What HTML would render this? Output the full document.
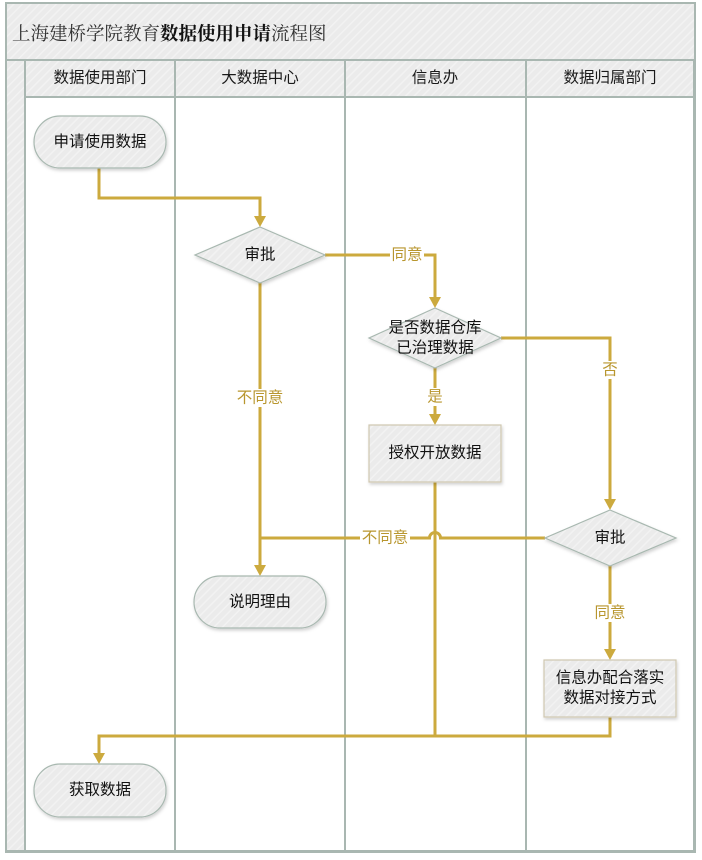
<!DOCTYPE html>
<html><head><meta charset="utf-8">
<style>
html,body{margin:0;padding:0;background:#fff;width:702px;height:860px;overflow:hidden}
svg{display:block}
.t{font-family:"Liberation Sans","Noto Sans CJK SC",sans-serif;font-size:15.5px;fill:#111;text-anchor:middle;dominant-baseline:central}
.h{font-family:"Liberation Sans","Noto Sans CJK SC",sans-serif;font-size:15.5px;fill:#1a1a1a;text-anchor:middle;dominant-baseline:central}
.l{font-family:"Liberation Sans","Noto Sans CJK SC",sans-serif;font-size:15.5px;fill:#b8962e;text-anchor:middle;dominant-baseline:central}
.c{fill:none;stroke:#ccaa3e;stroke-width:3}
.a{fill:#ccaa3e}
.n{fill:url(#hatch);stroke:#a8b8b0;stroke-width:1.2;filter:url(#sh)}
</style></head><body>
<svg width="702" height="860" viewBox="0 0 702 860" xmlns="http://www.w3.org/2000/svg">
<defs>
<pattern id="hatch" width="6" height="6" patternUnits="userSpaceOnUse" patternTransform="rotate(45)">
<rect width="6" height="6" fill="#ebebeb"/>
<rect width="1.5" height="6" fill="#f2f2f2"/>
</pattern>
<filter id="sh" x="-10%" y="-10%" width="130%" height="140%">
<feDropShadow dx="1" dy="2" stdDeviation="1.5" flood-color="#000" flood-opacity="0.18"/>
</filter>
</defs>

<!-- frame -->
<rect x="6" y="3" width="689" height="849" fill="url(#hatch)" stroke="#a9b7b1" stroke-width="2"/>
<rect x="25" y="97" width="669" height="754" fill="#fff"/>
<g stroke="#a9b7b1" stroke-width="2" fill="none">
<line x1="6" y1="60" x2="695" y2="60"/>
<line x1="25" y1="97" x2="695" y2="97"/>
<line x1="25" y1="60" x2="25" y2="852"/>
<line x1="175" y1="60" x2="175" y2="852"/>
<line x1="345" y1="60" x2="345" y2="852"/>
<line x1="526" y1="60" x2="526" y2="852"/>
<line x1="694" y1="60" x2="694" y2="852"/>
<line x1="6" y1="851" x2="695" y2="851"/>
</g>

<!-- title -->
<text x="12" y="35" style="font-family:'Liberation Serif','Noto Serif CJK SC',serif;font-size:18.5px;fill:#333;dominant-baseline:central">上海建桥学院教育<tspan style="font-weight:bold;fill:#111">数据使用申请</tspan>流程图</text>

<!-- headers -->
<text class="h" x="100" y="78">数据使用部门</text>
<text class="h" x="260" y="78">大数据中心</text>
<text class="h" x="435" y="78">信息办</text>
<text class="h" x="610" y="78">数据归属部门</text>

<!-- connectors -->
<path class="c" d="M99,168 V198 H260 V218"/>
<polygon class="a" points="254,216 266,216 260,227"/>

<path class="c" d="M325,255 H435 V299"/>
<polygon class="a" points="429,297 441,297 435,308"/>

<path class="c" d="M435,368 V416"/>
<polygon class="a" points="429,414 441,414 435,425"/>

<path class="c" d="M501,338 H610 V501"/>
<polygon class="a" points="604,499 616,499 610,510"/>

<path class="c" d="M545,538 H440.5 A5,5 0 0 0 429.5,538 H260"/>

<path class="c" d="M260,283 V567"/>
<polygon class="a" points="254,565 266,565 260,576"/>

<path class="c" d="M610,566 V651"/>
<polygon class="a" points="604,649 616,649 610,660"/>

<path class="c" d="M610,717 V736 H99 V755"/>
<polygon class="a" points="93,753 105,753 99,764"/>

<path class="c" d="M435,482 V736"/>

<!-- connector labels -->
<rect x="390" y="246" width="34" height="18" fill="#fff"/>
<text class="l" x="407" y="255">同意</text>
<rect x="427" y="388" width="16" height="18" fill="#fff"/>
<text class="l" x="435" y="397">是</text>
<rect x="602" y="361" width="16" height="18" fill="#fff"/>
<text class="l" x="610" y="370">否</text>
<rect x="360" y="529" width="50" height="18" fill="#fff"/>
<text class="l" x="385" y="538">不同意</text>
<rect x="235" y="389" width="50" height="18" fill="#fff"/>
<text class="l" x="260" y="398">不同意</text>
<rect x="593" y="604" width="34" height="18" fill="#fff"/>
<text class="l" x="610" y="613">同意</text>

<!-- nodes -->
<rect class="n" x="34" y="116" width="132" height="52" rx="26"/>
<text class="t" x="100" y="142">申请使用数据</text>

<polygon class="n" points="260,227 325,255 260,283 195,255"/>
<text class="t" x="260" y="255">审批</text>

<polygon class="n" points="435,308 501,338 435,368 369,338"/>
<text class="t" x="435" y="328">是否数据仓库</text>
<text class="t" x="435" y="348">已治理数据</text>

<rect class="n" x="369" y="425" width="132" height="57" style="stroke:#cfc7b0"/>
<text class="t" x="435" y="453">授权开放数据</text>

<polygon class="n" points="610,510 676,538 610,566 545,538"/>
<text class="t" x="610" y="538">审批</text>

<rect class="n" x="194" y="576" width="132" height="52" rx="26"/>
<text class="t" x="260" y="602">说明理由</text>

<rect class="n" x="544" y="660" width="132" height="57" style="stroke:#cfc7b0"/>
<text class="t" x="610" y="678">信息办配合落实</text>
<text class="t" x="610" y="698">数据对接方式</text>

<rect class="n" x="34" y="764" width="132" height="53" rx="26"/>
<text class="t" x="100" y="790">获取数据</text>
</svg>
</body></html>
